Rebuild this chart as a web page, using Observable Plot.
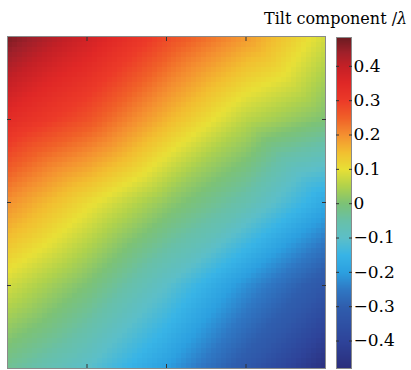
<!DOCTYPE html>
<html>
<head>
<meta charset="utf-8">
<script src="https://cdn.jsdelivr.net/npm/d3@7"></script>
<script src="https://cdn.jsdelivr.net/npm/@observablehq/plot@0.6"></script>
<style>
  html, body { margin: 0; padding: 0; background: #fff; }
  #wrap { position: relative; width: 411px; height: 370px; overflow: hidden; font-family: "DejaVu Serif", serif; }
  #main { position: absolute; left: 0; top: 0; }
  #cbar { position: absolute; left: 330px; top: 0; }
  #title { position: absolute; left: 264px; top: 11px; font-size: 16px; line-height: 1; color: #000; white-space: nowrap; }
</style>
</head>
<body>
<div id="wrap">
  <div id="main"></div>
  <div id="cbar"></div>
  <div id="title">Tilt component /<i>λ</i></div>
</div>
<script>
// Sample positions (normalized, x left→right, y top→bottom)
const gridX = [0, 0.25, 0.5, 0.75, 1];
const gridY = [0, 0.25, 0.5, 0.75, 1];
// Tilt values at those positions (rows = gridY, cols = gridX)
const tiltValues = [
  [ 0.47,  0.38,  0.28,  0.19,  0.08],
  [ 0.34,  0.27,  0.16,  0.06,  0.00],
  [ 0.20,  0.11,  0.02, -0.06, -0.18],
  [ 0.08,  0.00, -0.10, -0.22, -0.33],
  [-0.03, -0.10, -0.20, -0.32, -0.47]
];
// Axis tick positions (unlabeled)
const axisTicks = [0.25, 0.5, 0.75];
// Colorbar
const cbarDomain = [-0.48, 0.484];
const cbarTicks = [-0.4, -0.3, -0.2, -0.1, 0, 0.1, 0.2, 0.3, 0.4];
const cbarTickLabels = ["−0.4", "−0.3", "−0.2", "−0.1", "0", "0.1", "0.2", "0.3", "0.4"];
// Colormap stops
const cmapStops = [-0.48, -0.4, -0.3, -0.25, -0.2, -0.15, -0.1, -0.05, 0, 0.05, 0.1, 0.15, 0.2, 0.25, 0.3, 0.35, 0.4, 0.44, 0.48];
const cmapColors = ["#2b2e7c", "#2e449a", "#2f5eae", "#2f78c4", "#2ca0e0", "#38b4e6", "#5cbfc8", "#68c0a8", "#7cc276", "#b0d24c", "#e8e036", "#f2be30", "#f49030", "#f06028", "#ec3a28", "#e02826", "#c42026", "#a0202a", "#701c22"];

const points = [];
gridY.forEach((y, i) => gridX.forEach((x, j) => points.push({x, y, v: tiltValues[i][j]})));

const colorScale = {type: "linear", domain: cmapStops, range: cmapColors, interpolate: "rgb", clamp: true};
const tickStroke = "#333";

const main = Plot.plot({
  width: 330, height: 370,
  marginLeft: 7, marginTop: 36, marginRight: 5, marginBottom: 2,
  x: {domain: [0, 1], axis: null},
  y: {domain: [1, 0], axis: null},
  color: colorScale,
  style: {fontFamily: "DejaVu Serif", background: "transparent"},
  marks: [
    Plot.raster(points, {x: "x", y: "y", fill: "v", interpolate: "barycentric", pixelSize: 5, imageRendering: "pixelated", x1: 0, x2: 1, y1: 0, y2: 1}),
    Plot.frame({stroke: "#8a8a8a"}),
    Plot.axisX({anchor: "bottom", ticks: axisTicks, tickSize: -4, tickFormat: () => "", label: null, stroke: tickStroke}),
    Plot.axisX({anchor: "top", ticks: axisTicks, tickSize: -4, tickFormat: () => "", label: null, stroke: tickStroke}),
    Plot.axisY({anchor: "left", ticks: axisTicks, tickSize: -4, tickFormat: () => "", label: null, stroke: tickStroke}),
    Plot.axisY({anchor: "right", ticks: axisTicks, tickSize: -4, tickFormat: () => "", label: null, stroke: tickStroke})
  ]
});
document.getElementById("main").appendChild(main);

const cbar = Plot.plot({
  width: 81, height: 370,
  marginLeft: 6, marginRight: 60, marginTop: 37, marginBottom: 2,
  x: {domain: [0, 1], axis: null},
  y: {domain: cbarDomain, axis: null},
  color: colorScale,
  style: {fontFamily: "DejaVu Serif", background: "transparent", color: "#000"},
  marks: [
    Plot.raster({fill: (x, y) => y, x1: 0, x2: 1, y1: cbarDomain[0], y2: cbarDomain[1], pixelSize: 1}),
    Plot.frame({stroke: "#8a8a8a"}),
    Plot.axisY({anchor: "left", ticks: cbarTicks, tickSize: -3, tickFormat: () => "", label: null, stroke: tickStroke}),
    Plot.axisY({anchor: "right", ticks: cbarTicks, tickSize: -3, tickFormat: () => "", label: null, stroke: tickStroke}),
    Plot.axisY({anchor: "right", ticks: cbarTicks, tickSize: 0, tickPadding: 2, label: null, fontSize: 17, fill: "#000",
      tickFormat: d => cbarTickLabels[cbarTicks.indexOf(d)]})
  ]
});
document.getElementById("cbar").appendChild(cbar);
</script>
</body>
</html>
